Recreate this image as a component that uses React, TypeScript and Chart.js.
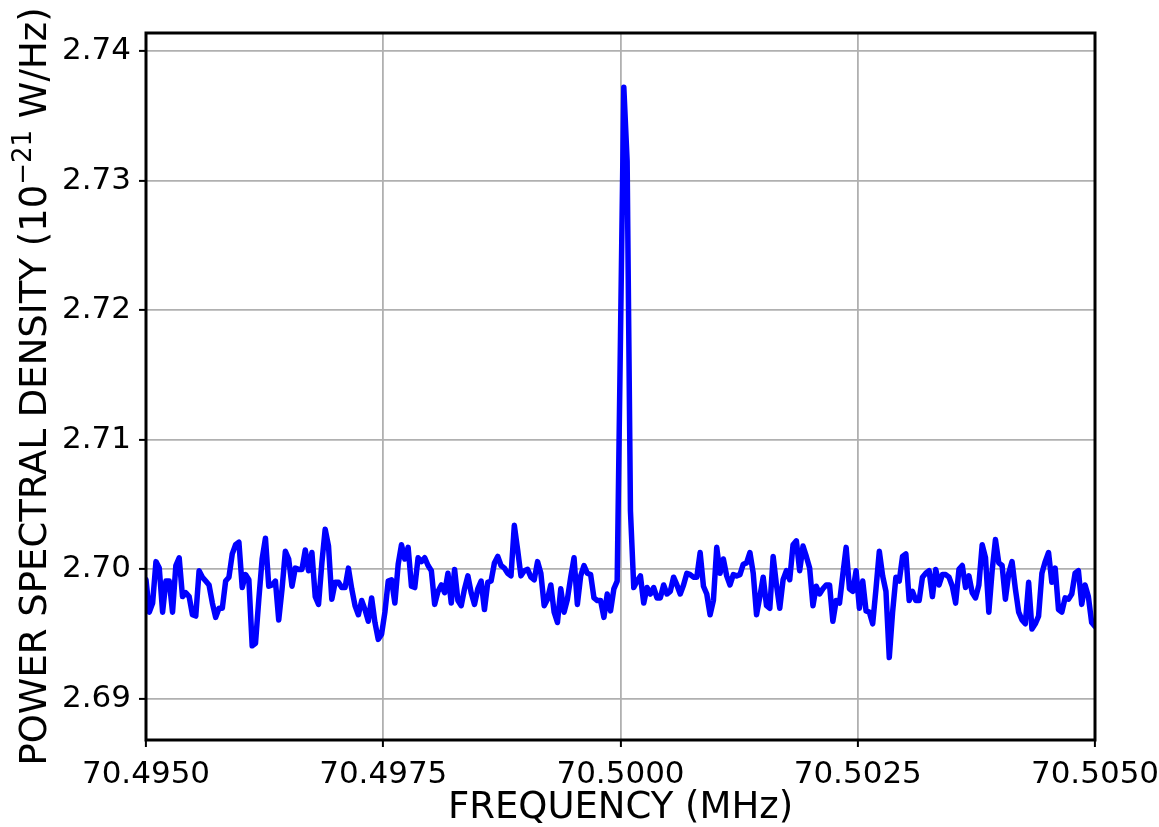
import { useEffect, useRef } from 'react';
import { Chart, registerables } from 'chart.js';

Chart.register(...registerables);

const FONT = "'DejaVu Sans', 'Liberation Sans', sans-serif";

// Frequency span of the sweep (MHz)
const FREQ_START = 70.495;
const FREQ_STOP = 70.505;

// Power spectral density in units of 1e-21 W/Hz, in sweep order
const psdLowerBand = [
  2.6992, 2.6967, 2.6974, 2.7006, 2.7001, 2.6967, 2.6991, 2.6991, 2.6967, 2.7003,
  2.7009, 2.6979, 2.6982, 2.6979, 2.6965, 2.6964, 2.6999, 2.6994, 2.6991, 2.6988,
  2.6974, 2.6963, 2.6970, 2.6970, 2.6991, 2.6994, 2.7012, 2.7019, 2.7021, 2.6986,
  2.6996, 2.6992, 2.6941, 2.6943, 2.6977, 2.7008, 2.7024, 2.6987, 2.6988, 2.6991,
  2.6961, 2.6985, 2.7014, 2.7008, 2.6987, 2.7001, 2.7000, 2.7000, 2.7015, 2.6999,
  2.7013, 2.6979, 2.6973, 2.7005, 2.7031, 2.7018, 2.6977, 2.6990, 2.6990, 2.6986,
  2.6986, 2.7001, 2.6985, 2.6972, 2.6965, 2.6976, 2.6969, 2.6960, 2.6978, 2.6959,
  2.6946, 2.6950, 2.6967, 2.6991, 2.6992, 2.6974, 2.7004, 2.7019, 2.7008, 2.7017,
  2.6987, 2.6986, 2.7009, 2.7006, 2.7009, 2.7003, 2.6999, 2.6973, 2.6983, 2.6988,
  2.6982, 2.6997, 2.6974, 2.7000, 2.6976, 2.6972,
];

const psdCarrierBand = [
  2.6985, 2.6995, 2.6982, 2.6973, 2.6985, 2.6991, 2.6969, 2.6990, 2.6991, 2.7005,
  2.7010, 2.7003, 2.7001, 2.6997, 2.6995, 2.7034, 2.7015, 2.6995, 2.6999, 2.7000,
  2.6994, 2.6992, 2.7006, 2.6997, 2.6972, 2.6977, 2.6988, 2.6967, 2.6959, 2.6985,
  2.6967, 2.6977, 2.6994, 2.7009, 2.6973, 2.6995, 2.7003, 2.6997, 2.6996, 2.6978,
  2.6976, 2.6976, 2.6963, 2.6981, 2.6968, 2.6985, 2.6991,
  2.7180, 2.7372, 2.7315, 2.7045, 2.6986,
];

const psdUpperBand = [
  2.6991, 2.6995, 2.6974, 2.6986, 2.6981, 2.6986, 2.6978, 2.6978, 2.6988, 2.6981,
  2.6983, 2.6994, 2.6988, 2.6981, 2.6988, 2.6997, 2.6996, 2.6994, 2.6994, 2.7013,
  2.6987, 2.6981, 2.6965, 2.6976, 2.7017, 2.6997, 2.7008, 2.6995, 2.6988, 2.6996,
  2.6995, 2.6996, 2.7004, 2.7005, 2.7013, 2.6997, 2.6965, 2.6979, 2.6994, 2.6972,
  2.6970, 2.7010, 2.6988, 2.6970,
];

const psdTailBand = [
  2.6992, 2.6999, 2.6992, 2.7019, 2.7022, 2.6999, 2.7018, 2.7010, 2.7001, 2.6972,
  2.6987, 2.6981, 2.6985, 2.6988, 2.6988, 2.6960, 2.6976, 2.6974, 2.6996, 2.7017,
  2.6985, 2.6983, 2.6999, 2.6970, 2.6991, 2.6968, 2.6967, 2.6958, 2.6985, 2.7014,
  2.6995, 2.6983, 2.6932, 2.6967, 2.6994, 2.6991, 2.7010, 2.7012, 2.6976, 2.6983,
  2.6976, 2.6976, 2.6994, 2.6997, 2.6999, 2.6979, 2.7000, 2.6988, 2.6996, 2.6996,
  2.6994, 2.6987, 2.6974, 2.7000, 2.7003, 2.6986, 2.6995, 2.6982, 2.6978, 2.6988,
  2.7019, 2.7009, 2.6967, 2.6999, 2.7023, 2.7005, 2.7003, 2.6977, 2.6997, 2.7006,
  2.6985, 2.6967, 2.6961, 2.6958, 2.6990, 2.6954, 2.6958, 2.6964, 2.6997, 2.7006,
  2.7013, 2.6990, 2.7001, 2.6969, 2.6967, 2.6978, 2.6977, 2.6981, 2.6997, 2.6999,
  2.6973, 2.6988, 2.6979, 2.6959, 2.6956,
];

const X_TICKS = [70.495, 70.4975, 70.5, 70.5025, 70.505];
const Y_TICKS = [2.69, 2.70, 2.71, 2.72, 2.73, 2.74];
const Y_MIN = 2.686836;
const Y_MAX = 2.741389;

const X_TITLE = 'FREQUENCY (MHz)';
const Y_TITLE_MAIN = 'POWER SPECTRAL DENSITY (10';
const Y_TITLE_EXP = '\u221221';
const Y_TITLE_TAIL = ' W/Hz)';

const psd = [...psdLowerBand, ...psdCarrierBand, ...psdUpperBand, ...psdTailBand];
const step = (FREQ_STOP - FREQ_START) / (psd.length - 1);
const points = psd.map((y, i) => ({ x: FREQ_START + i * step, y }));

const framePlugin = {
  id: 'frame',
  afterDraw(chart: any) {
    const { ctx, chartArea } = chart;
    ctx.save();
    ctx.strokeStyle = '#000';
    ctx.lineWidth = 3;
    ctx.strokeRect(chartArea.left, chartArea.top, chartArea.right - chartArea.left, chartArea.bottom - chartArea.top);
    ctx.restore();
  },
};

const titlesPlugin = {
  id: 'axisTitles',
  afterDraw(chart: any) {
    const { ctx, chartArea } = chart;
    const big = `37px ${FONT}`;
    const small = `26px ${FONT}`;
    ctx.save();
    ctx.fillStyle = '#000';
    ctx.textBaseline = 'alphabetic';

    // x title
    ctx.font = big;
    ctx.textAlign = 'center';
    ctx.fillText(X_TITLE, (chartArea.left + chartArea.right) / 2, 818);

    // y title with superscript exponent
    ctx.translate(46, (chartArea.top + chartArea.bottom) / 2);
    ctx.rotate(-Math.PI / 2);
    ctx.textAlign = 'left';
    ctx.font = big;
    const w1 = ctx.measureText(Y_TITLE_MAIN).width;
    const w3 = ctx.measureText(Y_TITLE_TAIL).width;
    ctx.font = small;
    const w2 = ctx.measureText(Y_TITLE_EXP).width;
    let x = -(w1 + w2 + w3) / 2;
    ctx.font = big;
    ctx.fillText(Y_TITLE_MAIN, x, 0);
    x += w1;
    ctx.font = small;
    ctx.fillText(Y_TITLE_EXP, x, -15);
    x += w2;
    ctx.font = big;
    ctx.fillText(Y_TITLE_TAIL, x, 0);
    ctx.restore();
  },
};

export default function App() {
  const ref = useRef<HTMLCanvasElement>(null);

  useEffect(() => {
    const canvas = ref.current;
    if (!canvas) return;
    const gridCommon = {
      color: '#b0b0b0',
      lineWidth: 1.8,
      drawTicks: true,
      tickColor: '#000',
      tickWidth: 2,
      tickLength: 7,
    };
    const chart = new Chart(canvas, {
      type: 'line',
      data: {
        datasets: [
          {
            data: points,
            borderColor: '#0000ff',
            borderWidth: 5.5,
            borderJoinStyle: 'round',
            borderCapStyle: 'round',
            pointRadius: 0,
            tension: 0,
            fill: false,
          },
        ],
      },
      options: {
        responsive: false,
        animation: false,
        devicePixelRatio: 1,
        layout: { padding: { top: 33, right: 64, left: 0, bottom: 0 } },
        plugins: { legend: { display: false }, tooltip: { enabled: false } },
        scales: {
          x: {
            type: 'linear',
            min: FREQ_START,
            max: FREQ_STOP,
            afterBuildTicks: (s: any) => {
              s.ticks = X_TICKS.map((v) => ({ value: v }));
            },
            afterFit: (s: any) => {
              s.height = 87;
              s.paddingLeft = 0;
              s.paddingRight = 0;
            },
            ticks: {
              autoSkip: false,
              maxRotation: 0,
              padding: 9,
              color: '#000',
              font: { family: FONT, size: 31 },
              callback: (v: any) => Number(v).toFixed(4),
            },
            grid: gridCommon,
            border: { display: false },
          },
          y: {
            type: 'linear',
            min: Y_MIN,
            max: Y_MAX,
            afterBuildTicks: (s: any) => {
              s.ticks = Y_TICKS.map((v) => ({ value: v }));
            },
            afterFit: (s: any) => {
              s.width = 146;
              s.paddingTop = 0;
              s.paddingBottom = 0;
            },
            ticks: {
              autoSkip: false,
              padding: 8,
              color: '#000',
              font: { family: FONT, size: 31 },
              callback: (v: any) => Number(v).toFixed(2),
            },
            grid: gridCommon,
            border: { display: false },
          },
        },
      },
      plugins: [framePlugin, titlesPlugin],
    });
    return () => chart.destroy();
  }, []);

  return (
    <div style={{ position: 'fixed', left: 0, top: 0, width: 1159, height: 827, background: '#fff' }}>
      <canvas ref={ref} width={1159} height={827} style={{ display: 'block' }} />
    </div>
  );
}
